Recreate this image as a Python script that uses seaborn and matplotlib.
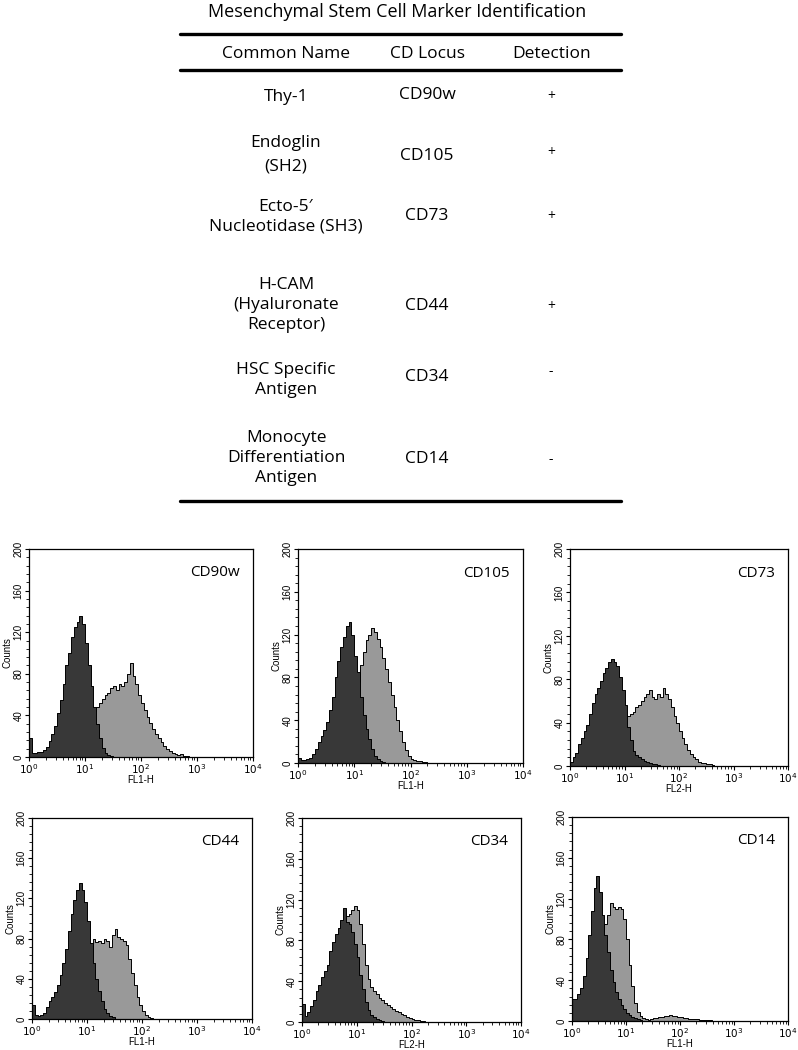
import numpy as np
import pandas as pd
import matplotlib
matplotlib.use('Agg')
import matplotlib.pyplot as plt
from matplotlib.lines import Line2D
from matplotlib.ticker import FixedLocator, MultipleLocator
import seaborn as sns

#--------------------------------------------------------------------------------------------------
# Dados da tabela
#--------------------------------------------------------------------------------------------------
titulo = 'Mesenchymal Stem Cell Marker Identification'
cabecalho = ['Common Name', 'CD Locus', 'Detection']
nomes = ['Thy-1', 'Endoglin\n(SH2)', 'Ecto-5\u2032\nNucleotidase (SH3)',
         'H-CAM\n(Hyaluronate\nReceptor)', 'HSC Specific\nAntigen',
         'Monocyte\nDifferentiation\nAntigen']
cd_locus = ['CD90w', 'CD105', 'CD73', 'CD44', 'CD34', 'CD14']
deteccao = ['+', '+', '+', '+', '-', '-']
canais = ['FL1-H', 'FL1-H', 'FL2-H', 'FL1-H', 'FL2-H', 'FL1-H']

#--------------------------------------------------------------------------------------------------
# Histogramas (contagens por faixa de 0.05 década, a partir de 10^0)
#--------------------------------------------------------------------------------------------------
# controle (escuro)
cd90w_ctrl = [18, 4, 4, 5, 5, 7, 10, 15, 22, 30, 42, 55, 70, 88, 100, 115, 125, 130, 136, 128,
              110, 88, 68, 48, 32, 18, 9, 4, 2, 1]
cd105_ctrl = [5, 3, 3, 4, 5, 8, 13, 20, 25, 31, 38, 50, 62, 80, 95, 108, 118, 128, 132, 120,
              100, 85, 62, 45, 32, 22, 13, 7, 4, 2, 1]
cd73_ctrl = [4, 8, 12, 20, 26, 32, 38, 48, 58, 66, 72, 78, 86, 90, 96, 99, 96, 92, 82, 70,
             56, 36, 24, 14, 10, 8, 6, 5, 4, 3, 2, 2, 1]
cd44_ctrl = [14, 4, 3, 4, 6, 12, 18, 22, 27, 34, 44, 56, 70, 88, 104, 118, 128, 135, 128, 116,
             98, 76, 56, 40, 28, 18, 10, 6, 3, 2]
cd34_ctrl = [18, 6, 10, 16, 22, 30, 36, 44, 50, 56, 70, 78, 86, 92, 100, 112, 98, 96, 88, 76,
             64, 46, 32, 20, 12, 7, 5, 3, 2, 1]
cd14_ctrl = [22, 22, 26, 32, 44, 62, 84, 108, 130, 142, 126, 104, 84, 68, 50, 38, 28, 22, 16, 12,
             8, 6, 4, 3, 2, 1]

# marcador (cinza)
cd90w_marc = [0, 0, 0, 0, 0, 0, 0, 0, 0, 2, 5, 8, 12, 16, 20, 25, 30, 34, 38, 40,
              42, 44, 45, 44, 48, 52, 56, 60, 62, 66, 68, 64, 70, 68, 72, 80, 90, 78, 70, 60,
              52, 45, 38, 33, 27, 22, 18, 14, 11, 8, 6, 4, 3, 2, 3, 1, 1]
cd105_marc = [0, 0, 0, 0, 0, 0, 0, 0, 0, 0, 1, 2, 3, 5, 8, 15, 25, 38, 50, 62,
              70, 76, 92, 104, 115, 120, 126, 122, 116, 108, 98, 88, 76, 64, 52, 40, 30, 20, 12, 7,
              4, 3, 2, 2, 1, 1]
cd73_marc = [0, 0, 0, 0, 0, 0, 0, 0, 0, 0, 0, 5, 10, 15, 20, 25, 30, 35, 40, 44,
             47, 46, 48, 50, 54, 56, 60, 64, 66, 70, 64, 62, 66, 64, 72, 66, 62, 54, 46, 40,
             32, 26, 20, 15, 11, 8, 6, 4, 3, 3, 2, 2, 1]
cd44_marc = [0, 0, 0, 0, 0, 0, 0, 0, 0, 0, 0, 0, 0, 5, 10, 18, 28, 40, 52, 62,
             70, 76, 80, 77, 78, 76, 80, 78, 72, 84, 90, 82, 80, 78, 74, 60, 46, 34, 22, 14,
             8, 4, 2, 1]
cd34_marc = [0, 0, 0, 0, 0, 5, 10, 15, 22, 30, 40, 50, 60, 70, 80, 90, 104, 106, 110, 114,
             110, 96, 76, 56, 42, 34, 30, 27, 24, 22, 19, 17, 15, 13, 11, 10, 8, 7, 5, 4,
             3, 2, 2, 1, 1]
cd14_marc = [0, 0, 0, 0, 5, 10, 20, 35, 50, 65, 78, 88, 95, 104, 116, 112, 110, 112, 110, 100,
             80, 55, 34, 18, 9, 5, 3, 2, 1, 2, 3, 3, 4, 4, 5, 5, 6, 5, 5, 4,
             4, 3, 3, 2, 2, 2, 2, 1, 1, 1, 1, 1]

controles = [cd90w_ctrl, cd105_ctrl, cd73_ctrl, cd44_ctrl, cd34_ctrl, cd14_ctrl]
marcadores = [cd90w_marc, cd105_marc, cd73_marc, cd44_marc, cd34_marc, cd14_marc]

# faixas em log10 (4 décadas, 80 faixas)
bordas = [round(0.05 * k, 2) for k in range(81)]
centros = [b + 0.025 for b in bordas[:-1]]

def tabela_hist(v):
    arr = np.zeros(80)
    arr[:len(v)] = v
    return pd.DataFrame({'log_fl': centros, 'contagem': arr})

#--------------------------------------------------------------------------------------------------
# Figura
#--------------------------------------------------------------------------------------------------
sns.set_style('ticks')
plt.rcParams['font.family'] = ['Open Sans', 'DejaVu Sans']
plt.rcParams['text.color'] = 'black'
plt.rcParams['axes.labelcolor'] = 'black'
plt.rcParams['xtick.color'] = 'black'
plt.rcParams['ytick.color'] = 'black'
plt.rcParams['axes.edgecolor'] = 'black'

W, H = 798, 1050
fig = plt.figure(figsize=(W / 100, H / 100), dpi=100)

def fy(y):
    return 1 - y / H

def fx(x):
    return x / W

# tabela
fig.text(fx(397), fy(12), titulo, ha='center', va='center', fontsize=13)
for y in [34, 70, 501]:
    fig.add_artist(Line2D([fx(180), fx(621)], [fy(y), fy(y)], color='black', lw=2.4))

col_x = [286, 427, 552]
for cx, txt in zip(col_x, cabecalho):
    fig.text(fx(cx), fy(54), txt, ha='center', va='center', fontsize=12.5)

# centros verticais (pixels) de cada coluna
nome_y = [97, 155, 217, 305, 380, 458]
cd_y = [95, 156, 216, 306, 377, 459]
det_y = [97, 153, 216, 307, 372, 460]
espaco = [1.3, 1.62, 1.3, 1.3, 1.3, 1.3]
for k in range(len(nomes)):
    fig.text(fx(col_x[0]), fy(nome_y[k]), nomes[k], ha='center', va='center', fontsize=12.5,
             linespacing=espaco[k])
    fig.text(fx(col_x[1]), fy(cd_y[k]), cd_locus[k], ha='center', va='center', fontsize=12.5)
    fig.text(fx(551), fy(det_y[k]), deteccao[k], ha='center', va='center', fontsize=10)

# posições dos painéis em pixels: esquerda, topo, direita, base
paineis = [(29, 549, 253, 757), (298, 549, 523, 763), (570, 549, 788, 766),
           (32, 818, 252, 1019), (302, 818, 521, 1022), (572, 817, 788, 1021)]

cor_escura = '#383838'
cor_clara = '#999999'

for i, (l, t, r, b) in enumerate(paineis):
    ax = fig.add_axes([fx(l), fy(b), (r - l) / W, (b - t) / H])

    sns.histplot(data=tabela_hist(marcadores[i]), x='log_fl', weights='contagem', bins=bordas,
                 element='step', fill=True, color=cor_clara, alpha=1, edgecolor='black',
                 linewidth=0.7, ax=ax)
    sns.histplot(data=tabela_hist(controles[i]), x='log_fl', weights='contagem', bins=bordas,
                 element='step', fill=True, color=cor_escura, alpha=1, edgecolor='black',
                 linewidth=0.7, ax=ax)

    ax.set_xlim(0, 4)
    ax.set_ylim(0, 200)
    ax.set_xticks([0, 1, 2, 3, 4])
    ax.set_xticklabels(['$10^0$', '$10^1$', '$10^2$', '$10^3$', '$10^4$'], fontsize=7.5,
                       family='Liberation Sans')
    menores = [d + np.log10(k) for d in range(4) for k in range(2, 10)]
    ax.xaxis.set_minor_locator(FixedLocator(menores))
    ax.set_yticks([0, 40, 80, 120, 160, 200])
    ax.set_yticklabels(['0', '40', '80', '120', '160', '200'], rotation=90, va='center',
                       fontsize=7, family='Liberation Sans')
    ax.yaxis.set_minor_locator(MultipleLocator(8))
    ax.tick_params(which='major', length=3, width=0.8, pad=1)
    ax.tick_params(which='minor', length=2, width=0.6)
    ax.set_xlabel(canais[i], fontsize=7, family='Liberation Sans', labelpad=-1)
    ax.set_ylabel('Counts', fontsize=7, family='Liberation Sans', labelpad=1)
    for sp in ax.spines.values():
        sp.set_visible(True)
        sp.set_linewidth(0.9)
    ax.text(0.94, 0.885, cd_locus[i], transform=ax.transAxes, ha='right', va='center', fontsize=11)

plt.savefig('out.png', dpi=100)
